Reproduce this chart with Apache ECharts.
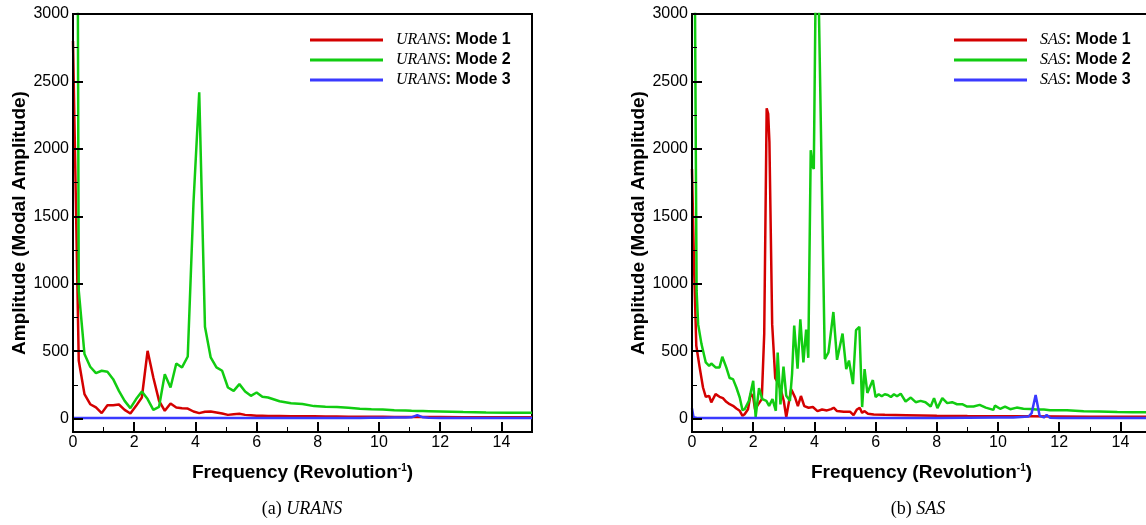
<!DOCTYPE html>
<html>
<head>
<meta charset="utf-8">
<script src="https://cdn.jsdelivr.net/npm/echarts@6/dist/echarts.min.js"></script>
<style>
html,body{margin:0;padding:0;background:#fff;}
#chart{width:1146px;height:525px;}
</style>
</head>
<body>
<div id="chart"></div>
<script>
// ---------- tick labels ----------
const yMajorTicks = [0, 500, 1000, 1500, 2000, 2500, 3000];
const yMinorTicks = [250, 750, 1250, 1750, 2250, 2750];

// ---------- URANS (left panel) ----------
const uransFreq = [0, 0.1875, 0.375, 0.5625, 0.75, 0.9375, 1.125, 1.3125, 1.5, 1.6875, 1.875, 2.0625, 2.25, 2.4375, 2.625, 2.8125, 3.0, 3.1875, 3.375, 3.5625, 3.75, 3.9375, 4.125, 4.3125, 4.5, 4.6875, 4.875, 5.0625, 5.25, 5.4375, 5.625, 5.8125, 6.0, 6.1875, 6.375, 6.75, 7.125, 7.5, 7.875, 8.25, 8.625, 9.0, 9.375, 9.75, 10.125, 10.5, 10.875, 11.0625, 11.25, 11.4375, 11.625, 12.0, 12.75, 13.5, 14.25, 15.0];
const uransMode1 = [2800, 430, 181, 106, 82, 40, 99, 99, 104, 64, 37, 94, 156, 502, 304, 131, 57, 111, 82, 77, 74, 52, 40, 50, 52, 45, 37, 27, 32, 35, 27, 25, 21, 20, 18, 18, 17, 17, 16, 15, 15, 14, 14, 13, 13, 12, 12, 12, 12, 11, 11, 11, 10, 10, 10, 10];
const uransMode2 = [15000, 950, 478, 384, 337, 354, 347, 292, 205, 131, 77, 144, 200, 144, 64, 87, 329, 230, 408, 379, 460, 1600, 2420, 680, 453, 379, 354, 230, 205, 255, 200, 168, 193, 161, 156, 128, 113, 107, 92, 88, 85, 79, 73, 68, 66, 62, 59, 57, 56, 55, 54, 52, 48, 45, 43, 42];
const uransMode3 = [3, 3, 3, 3, 3, 3, 3, 3, 3, 3, 3, 3, 3, 3, 3, 3, 3, 3, 3, 3, 3, 3, 3, 3, 3, 3, 3, 3, 3, 3, 3, 3, 3, 3, 3, 3, 3, 3, 3, 3, 3, 4, 4, 5, 6, 7, 8, 9, 25, 9, 5, 3, 3, 3, 3, 3];

// ---------- SAS (right panel) ----------
const sasFreq1 = [0, 0.07, 0.14, 0.25, 0.36, 0.45, 0.56, 0.63, 0.77, 0.9, 1.01, 1.12, 1.23, 1.34, 1.45, 1.56, 1.65, 1.72, 1.83, 1.92, 2.0, 2.06, 2.17, 2.28, 2.36, 2.44, 2.49, 2.53, 2.62, 2.72, 2.82, 2.92, 3.0, 3.08, 3.24, 3.3, 3.37, 3.46, 3.56, 3.67, 3.81, 3.95, 4.1, 4.25, 4.41, 4.55, 4.63, 4.74, 4.96, 5.17, 5.28, 5.39, 5.48, 5.56, 5.63, 5.75, 5.94, 6.3, 7.0, 8.0, 9.0, 10.0, 11.0, 12.0, 13.0, 14.0, 15.0];
const sasMode1 = [1850, 1100, 540, 379, 230, 161, 168, 119, 181, 161, 151, 124, 106, 94, 74, 57, 20, 32, 69, 185, 160, 69, 107, 144, 627, 2300, 2260, 2050, 700, 300, 260, 200, 130, 10, 217, 190, 155, 92, 167, 92, 80, 85, 55, 67, 60, 70, 80, 55, 50, 50, 25, 67, 80, 42, 55, 35, 30, 28, 25, 20, 18, 17, 16, 15, 14, 13, 13];
const sasFreq2 = [0, 0.05, 0.15, 0.2, 0.31, 0.45, 0.56, 0.63, 0.77, 0.9, 0.99, 1.12, 1.23, 1.34, 1.45, 1.56, 1.65, 1.72, 1.86, 2.0, 2.08, 2.19, 2.3, 2.43, 2.52, 2.63, 2.74, 2.8, 2.89, 2.99, 3.08, 3.2, 3.27, 3.34, 3.45, 3.54, 3.64, 3.73, 3.8, 3.88, 3.94, 3.98, 4.05, 4.12, 4.34, 4.46, 4.62, 4.74, 4.92, 5.04, 5.13, 5.26, 5.36, 5.47, 5.56, 5.64, 5.73, 5.91, 6.0, 6.1, 6.2, 6.3, 6.4, 6.5, 6.6, 6.7, 6.82, 6.98, 7.15, 7.31, 7.47, 7.63, 7.8, 7.91, 8.02, 8.18, 8.34, 8.5, 8.66, 8.83, 8.99, 9.2, 9.4, 9.6, 9.85, 9.9, 10.07, 10.23, 10.4, 10.61, 10.83, 11.05, 11.25, 11.5, 11.7, 12.25, 12.8, 13.3, 13.9, 14.4, 15.0];
const sasMode2 = [8000, 5000, 950, 700, 552, 416, 391, 408, 379, 379, 458, 379, 300, 292, 230, 156, 62, 69, 131, 280, 12, 225, 144, 131, 94, 144, 57, 490, 105, 385, 168, 131, 330, 690, 370, 735, 417, 660, 450, 1990, 1870, 1850, 3400, 3400, 441, 490, 790, 435, 630, 367, 430, 255, 655, 680, 85, 367, 190, 285, 160, 180, 165, 180, 175, 160, 180, 165, 184, 126, 155, 121, 131, 121, 89, 151, 77, 151, 114, 121, 106, 106, 89, 89, 101, 81, 64, 96, 72, 89, 69, 81, 72, 70, 67, 66, 62, 62, 54, 52, 49, 47, 46];
const sasFreq3 = [0, 0.05, 0.2, 1, 3, 5, 7, 8, 9, 10, 10.5, 11.0, 11.1, 11.23, 11.36, 11.5, 11.59, 11.7, 12, 13, 14, 15];
const sasMode3 = [75, 10, 3, 3, 3, 4, 3, 4, 6, 8, 8, 15, 40, 175, 20, 8, 26, 6, 4, 3, 3, 3];

const seriesNames = {
  urans: ['URANS: Mode 1', 'URANS: Mode 2', 'URANS: Mode 3'],
  sas: ['SAS: Mode 1', 'SAS: Mode 2', 'SAS: Mode 3']
};
const colors = ['#d40000', '#11cc11', '#3a3aff'];

function pairs(xs, ys) { return xs.map((x, i) => [x, ys[i]]); }

const FONT = 'Liberation Sans';
const SERIF = 'Liberation Serif';

function xAxisCfg(gi) {
  return {
    gridIndex: gi, type: 'value', min: 0, max: 15, interval: 2, z: 5,
    axisLine: { onZero: false, lineStyle: { color: '#000', width: 2 } },
    axisTick: { inside: true, length: 10, lineStyle: { color: '#000', width: 2 } },
    minorTick: { show: true, splitNumber: 2, length: 5, lineStyle: { color: '#000', width: 1 } },
    axisLabel: { color: '#000', fontSize: 16, fontFamily: FONT, margin: 3, showMaxLabel: false,
      formatter: function (v) { return String(v); } },
    splitLine: { show: false },
    name: '{b|Frequency (Revolution}{s|-1}{b|)}',
    nameLocation: 'middle', nameGap: 31,
    nameTextStyle: {
      rich: {
        b: { fontFamily: FONT, fontWeight: 'bold', fontSize: 19, color: '#000' },
        s: { fontFamily: FONT, fontWeight: 'bold', fontSize: 10, color: '#000', verticalAlign: 'top', padding: [0, 0, 10, 0] }
      }
    }
  };
}
function yMajorCfg(gi) {
  return {
    gridIndex: gi, type: 'value', min: -100, max: 3000, position: 'left', z: 5,
    axisLine: { onZero: false, lineStyle: { color: '#000', width: 2 } },
    axisTick: { inside: true, length: 10, customValues: yMajorTicks, lineStyle: { color: '#000', width: 2 } },
    axisLabel: { customValues: yMajorTicks, color: '#000', fontSize: 16, fontFamily: FONT, margin: 4,
      formatter: function (v) { return String(v); } },
    splitLine: { show: false },
    name: 'Amplitude (Modal Amplitude)',
    nameLocation: 'middle', nameGap: 43,
    nameTextStyle: { fontFamily: FONT, fontWeight: 'bold', fontSize: 19, color: '#000' }
  };
}
function yMinorCfg(gi) {
  return {
    gridIndex: gi, type: 'value', min: -100, max: 3000, position: 'left', offset: 0, z: 5,
    axisLine: { show: false },
    axisTick: { inside: true, length: 5, customValues: yMinorTicks, lineStyle: { color: '#000', width: 1 } },
    axisLabel: { show: false },
    splitLine: { show: false }
  };
}
function legendCfg(names, left) {
  return {
    data: names, left: left, top: 32, orient: 'vertical', padding: 0,
    icon: 'rect', itemWidth: 73, itemHeight: 3, itemGap: 4, selectedMode: false,
    formatter: function (name) {
      const parts = name.split(':');
      return '{p| }{i|' + parts[0] + '}{b|:' + parts[1] + '}';
    },
    textStyle: {
      rich: {
        p: { width: 8, fontSize: 16, lineHeight: 16 },
        i: { fontFamily: SERIF, fontStyle: 'italic', fontSize: 16, color: '#000', lineHeight: 16 },
        b: { fontFamily: FONT, fontWeight: 'bold', fontSize: 16, color: '#000', lineHeight: 16 }
      }
    }
  };
}
function lineSeries(name, xi, yi, data, color) {
  return {
    name: name, type: 'line', xAxisIndex: xi, yAxisIndex: yi, data: data,
    showSymbol: false, symbol: 'none', clip: true,
    lineStyle: { color: color, width: 2.5 }, itemStyle: { color: color },
    animation: false
  };
}

const chart = echarts.init(document.getElementById('chart'), null, { renderer: 'canvas' });
chart.setOption({
  backgroundColor: '#fff',
  animation: false,
  grid: [
    { left: 73, top: 14, width: 459, height: 418, show: true, borderColor: '#000', borderWidth: 2, outerBoundsMode: 'none' },
    { left: 692, top: 14, width: 459, height: 418, show: true, borderColor: '#000', borderWidth: 2, outerBoundsMode: 'none' }
  ],
  xAxis: [xAxisCfg(0), xAxisCfg(1)],
  yAxis: [yMajorCfg(0), yMinorCfg(0), yMajorCfg(1), yMinorCfg(1)],
  legend: [legendCfg(seriesNames.urans, 310), legendCfg(seriesNames.sas, 954)],
  title: [
    { text: '(a) {i|URANS}', left: 302, top: 500, textAlign: 'center', padding: 0,
      textStyle: { fontFamily: SERIF, fontWeight: 'normal', fontSize: 18, color: '#000',
        rich: { i: { fontFamily: SERIF, fontStyle: 'italic', fontSize: 18, color: '#000' } } } },
    { text: '(b) {i|SAS}', left: 918, top: 500, textAlign: 'center', padding: 0,
      textStyle: { fontFamily: SERIF, fontWeight: 'normal', fontSize: 18, color: '#000',
        rich: { i: { fontFamily: SERIF, fontStyle: 'italic', fontSize: 18, color: '#000' } } } }
  ],
  series: [
    lineSeries(seriesNames.urans[0], 0, 0, pairs(uransFreq, uransMode1), colors[0]),
    lineSeries(seriesNames.urans[1], 0, 0, pairs(uransFreq, uransMode2), colors[1]),
    lineSeries(seriesNames.urans[2], 0, 0, pairs(uransFreq, uransMode3), colors[2]),
    lineSeries(seriesNames.sas[0], 1, 2, pairs(sasFreq1, sasMode1), colors[0]),
    lineSeries(seriesNames.sas[1], 1, 2, pairs(sasFreq2, sasMode2), colors[1]),
    lineSeries(seriesNames.sas[2], 1, 2, pairs(sasFreq3, sasMode3), colors[2])
  ]
});
</script>
</body>
</html>
